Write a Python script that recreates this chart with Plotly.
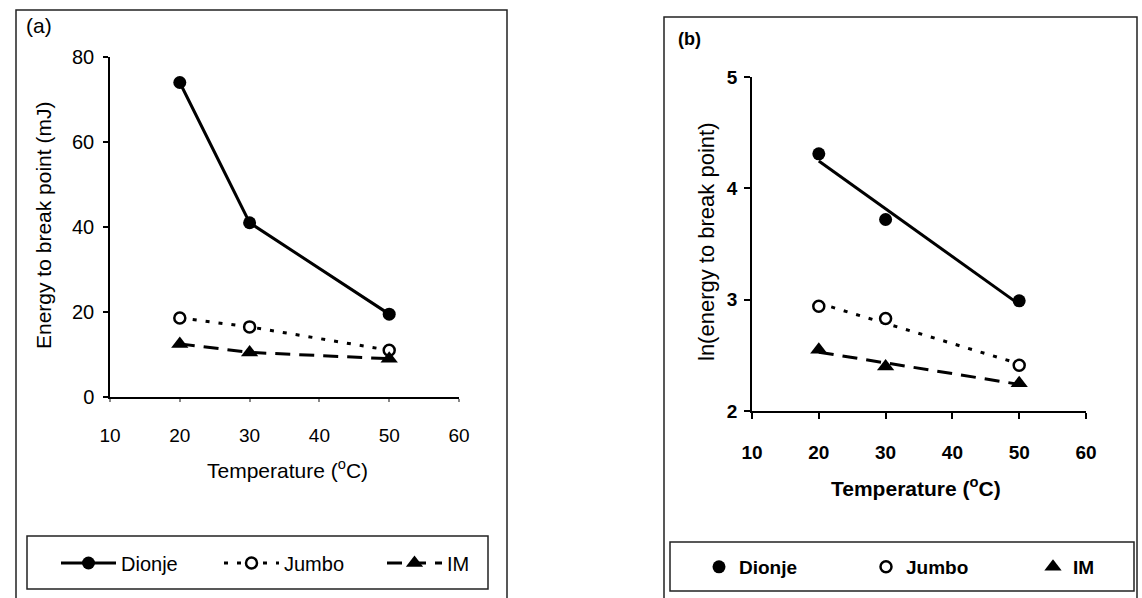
import numpy as np
import plotly.graph_objects as go

# ---------------- data ----------------
temps = [20, 30, 50]
dionje_energy = [74.0, 41.0, 19.5]
jumbo_energy = [18.6, 16.5, 11.0]
im_energy = [12.5, 10.5, 9.0]

dionje_ln = [4.31, 3.72, 2.99]
jumbo_ln = [2.94, 2.83, 2.41]
im_ln = [2.55, 2.40, 2.25]

x_ticks = [10, 20, 30, 40, 50, 60]
y_ticks_a = [0, 20, 40, 60, 80]
y_ticks_b = [2, 3, 4, 5]

W, H = 1142, 598
FONT = "Liberation Sans, Arial, sans-serif"


def px(x):
    return x / W


def py(y):
    return 1 - y / H


fig = go.Figure()

# ---------------- panel (a) ----------------
fig.add_trace(go.Scatter(
    x=temps, y=dionje_energy, name="Dionje", mode="lines+markers",
    line=dict(color="black", width=3),
    marker=dict(symbol="circle", size=13, color="black"),
    xaxis="x", yaxis="y", legend="legend"))
fig.add_trace(go.Scatter(
    x=temps, y=jumbo_energy, name="Jumbo", mode="lines+markers",
    line=dict(color="black", width=3, dash="4px,9px"),
    marker=dict(symbol="circle", size=11, color="white",
                line=dict(color="black", width=2.5)),
    xaxis="x", yaxis="y", legend="legend"))
fig.add_trace(go.Scatter(
    x=temps, y=im_energy, name="IM", mode="lines+markers",
    line=dict(color="black", width=3, dash="15px,9px"),
    marker=dict(symbol="triangle-up", size=15, color="black"),
    xaxis="x", yaxis="y", legend="legend"))

# ---------------- panel (b) ----------------
series_b = [
    ("Dionje", dionje_ln, dict(symbol="circle", size=13, color="black"), "solid"),
    ("Jumbo", jumbo_ln, dict(symbol="circle", size=11, color="white",
                             line=dict(color="black", width=2.5)), "4px,9px"),
    ("IM", im_ln, dict(symbol="triangle-up", size=15, color="black"), "15px,9px"),
]
for name, vals, mk, dash in series_b:
    slope, icpt = np.polyfit(temps, vals, 1)
    xs = [temps[0], temps[-1]]
    fig.add_trace(go.Scatter(
        x=xs, y=[slope * t + icpt for t in xs], mode="lines",
        line=dict(color="black", width=3, dash=dash),
        showlegend=False, hoverinfo="skip", xaxis="x2", yaxis="y2"))
    fig.add_trace(go.Scatter(
        x=temps, y=vals, name=name, mode="markers", marker=mk,
        xaxis="x2", yaxis="y2", legend="legend2"))

axis_common = dict(showgrid=False, zeroline=False, showline=True,
                   linecolor="black", linewidth=1.5, ticks="outside",
                   tickwidth=1.5)

BOLD = dict(weight="bold")

fig.update_layout(
    width=W, height=H,
    margin=dict(l=0, r=0, t=0, b=0, autoexpand=False),
    paper_bgcolor="white", plot_bgcolor="white",
    font=dict(family=FONT, color="black", size=18),
    xaxis=dict(domain=[px(110), px(459)], range=[10, 60], tickvals=x_ticks,
               anchor="y", ticklen=3, ticklabelstandoff=17, tickcolor="#888",
               tickfont=dict(size=19), **axis_common),
    yaxis=dict(domain=[py(397), py(57)], range=[0, 80], tickvals=y_ticks_a,
               anchor="x", ticklen=5, ticklabelstandoff=5, tickcolor="black",
               tickfont=dict(size=20), **axis_common),
    xaxis2=dict(domain=[px(752), px(1086)], range=[10, 60], tickvals=x_ticks,
                anchor="y2", ticklen=6, ticklabelstandoff=17, tickcolor="black",
                tickfont=dict(size=19, **BOLD), **axis_common),
    yaxis2=dict(domain=[py(411), py(77)], range=[2, 5], tickvals=y_ticks_b,
                anchor="x2", ticklen=6, ticklabelstandoff=3, tickcolor="black",
                tickfont=dict(size=19, **BOLD), **axis_common),
    legend=dict(orientation="h", x=px(56), y=py(563), xanchor="left",
                yanchor="middle", bgcolor="rgba(0,0,0,0)", borderwidth=0,
                itemwidth=55, entrywidth=93, entrywidthmode="pixels",
                font=dict(size=20), itemclick=False),
    legend2=dict(orientation="h", x=px(699), y=py(567), xanchor="left",
                 yanchor="middle", bgcolor="rgba(0,0,0,0)", borderwidth=0,
                 itemwidth=30, entrywidth=122, entrywidthmode="pixels",
                 font=dict(size=19, **BOLD), itemclick=False),
)

# frames and legend boxes
frame_line = dict(color="#222", width=1.5)
shapes = [
    dict(type="rect", xref="paper", yref="paper", x0=px(16), x1=px(507),
         y0=py(606), y1=py(10), line=frame_line),
    dict(type="rect", xref="paper", yref="paper", x0=px(664), x1=px(1137),
         y0=py(606), y1=py(17), line=frame_line),
    dict(type="rect", xref="paper", yref="paper", x0=px(27), x1=px(488),
         y0=py(589), y1=py(536), line=frame_line),
    dict(type="rect", xref="paper", yref="paper", x0=px(670), x1=px(1134),
         y0=py(591), y1=py(542), line=frame_line),
]
fig.update_layout(shapes=shapes)

annos = [
    dict(text="(a)", x=px(24), y=py(26), xanchor="left", yanchor="middle",
         font=dict(size=21)),
    dict(text="(b)", x=px(676), y=py(39), xanchor="left", yanchor="middle",
         font=dict(size=18, **BOLD)),
    dict(text="Energy to break point (mJ)", x=px(44), y=py(226),
         textangle=-90, xanchor="center", yanchor="middle", font=dict(size=21)),
    dict(text="ln(energy to break point)", x=px(707), y=py(242),
         textangle=-90, xanchor="center", yanchor="middle", font=dict(size=22)),
    dict(text="Temperature (<sup>o</sup>C)", x=px(287), y=py(469),
         xanchor="center", yanchor="middle", font=dict(size=21)),
    dict(text="Temperature (<sup>o</sup>C)", x=px(916), y=py(487),
         xanchor="center", yanchor="middle", font=dict(size=21, **BOLD)),
]
for a in annos:
    a.update(xref="paper", yref="paper", showarrow=False)
fig.update_layout(annotations=annos)

fig.write_html("out.html")
